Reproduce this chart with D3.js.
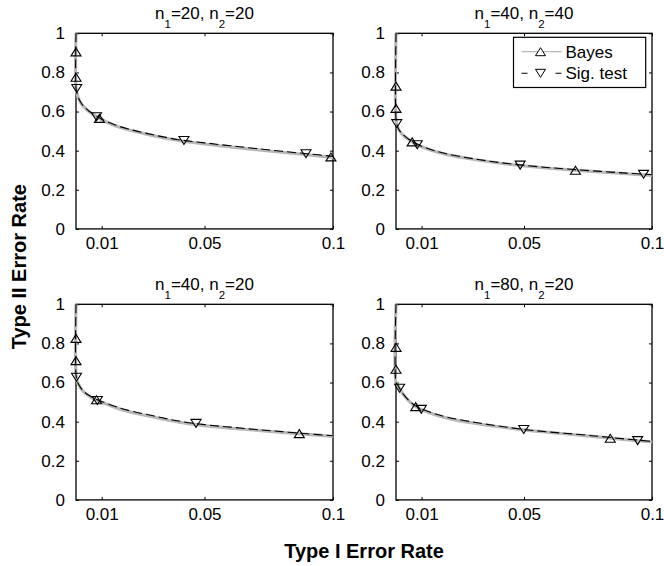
<!DOCTYPE html>
<html>
<head>
<meta charset="utf-8">
<script src="https://cdn.jsdelivr.net/npm/d3@7"></script>
<style>
  html, body { margin: 0; padding: 0; background: #fff; }
  svg { display: block; font-family: "Liberation Sans", Arial, Helvetica, sans-serif; }
</style>
</head>
<body>
<svg id="chart" width="664" height="566"></svg>
<script>
// ---- data ---------------------------------------------------------------
// sample sizes shown in each panel title (row-major order)
const n1Values = [20, 40, 40, 80];
const n2Values = [20, 40, 20, 20];

// Type I error rate grid shared by all curves
const typeIGrid = [0, 0, 0.0005, 0.001, 0.002, 0.003, 0.005, 0.0075, 0.01, 0.015,
                   0.02, 0.03, 0.04, 0.05, 0.06, 0.07, 0.08, 0.09, 0.1];

// Type II error rate along the grid, Bayes rule
const bayesCurve20x20 = [1, 0.72, 0.685, 0.667, 0.642, 0.625, 0.6, 0.578, 0.558, 0.529, 0.508, 0.477, 0.452, 0.434, 0.419, 0.405, 0.392, 0.379, 0.366];
const bayesCurve40x40 = [1, 0.56, 0.525, 0.51, 0.49, 0.477, 0.456, 0.436, 0.42, 0.397, 0.38, 0.356, 0.337, 0.322, 0.31, 0.3, 0.291, 0.282, 0.274];
const bayesCurve40x20 = [1, 0.64, 0.605, 0.59, 0.568, 0.552, 0.532, 0.513, 0.499, 0.474, 0.453, 0.424, 0.398, 0.38, 0.367, 0.356, 0.345, 0.335, 0.325];
const bayesCurve80x20 = [1, 0.6, 0.59, 0.58, 0.556, 0.537, 0.506, 0.479, 0.461, 0.437, 0.418, 0.393, 0.374, 0.358, 0.345, 0.333, 0.321, 0.308, 0.296];

// Type II error rate along the grid, significance test
const sigCurve20x20 = [1, 0.72, 0.686, 0.668, 0.644, 0.627, 0.603, 0.581, 0.561, 0.533, 0.512, 0.481, 0.456, 0.44, 0.425, 0.411, 0.397, 0.384, 0.371];
const sigCurve40x40 = [1, 0.56, 0.526, 0.511, 0.492, 0.479, 0.458, 0.439, 0.423, 0.4, 0.383, 0.359, 0.34, 0.325, 0.313, 0.303, 0.294, 0.285, 0.277];
const sigCurve40x20 = [1, 0.64, 0.606, 0.591, 0.57, 0.555, 0.535, 0.517, 0.503, 0.479, 0.459, 0.43, 0.403, 0.385, 0.372, 0.36, 0.349, 0.338, 0.328];
const sigCurve80x20 = [1, 0.6, 0.59, 0.58, 0.557, 0.538, 0.508, 0.482, 0.465, 0.441, 0.423, 0.398, 0.378, 0.36, 0.347, 0.336, 0.324, 0.311, 0.299];

// marked operating points: Bayes (up triangles)
const bayesMarkX20x20 = [0, 0, 0.0091, 0.0992];
const bayesMarkY20x20 = [0.905, 0.775, 0.565, 0.368];
const bayesMarkX40x40 = [0, 0, 0.0063, 0.0701];
const bayesMarkY40x40 = [0.73, 0.616, 0.445, 0.30];
const bayesMarkX40x20 = [0, 0, 0.008, 0.0869];
const bayesMarkY40x20 = [0.826, 0.712, 0.512, 0.339];
const bayesMarkX80x20 = [0, 0, 0.0077, 0.0837];
const bayesMarkY80x20 = [0.78, 0.668, 0.477, 0.315];

// marked operating points: significance test (down triangles)
const sigMarkX20x20 = [0.0003, 0.008, 0.042, 0.0895];
const sigMarkY20x20 = [0.718, 0.573, 0.452, 0.384];
const sigMarkX40x40 = [0.0003, 0.0083, 0.0485, 0.0967];
const sigMarkY40x40 = [0.538, 0.43, 0.326, 0.279];
const sigMarkX40x20 = [0.0002, 0.0083, 0.0467];
const sigMarkY40x20 = [0.627, 0.508, 0.391];
const sigMarkX80x20 = [0.0014, 0.0099, 0.0499, 0.0944];
const sigMarkY80x20 = [0.571, 0.463, 0.36, 0.303];

// axis ticks
const xTickValues = [0.01, 0.05, 0.1];
const xTickLabels = ["0.01", "0.05", "0.1"];
const yTickValues = [0, 0.2, 0.4, 0.6, 0.8, 1];
const yTickLabels = ["0", "0.2", "0.4", "0.6", "0.8", "1"];

const legendLabels = ["Bayes", "Sig. test"];
const xAxisTitle = "Type I Error Rate";
const yAxisTitle = "Type II Error Rate";

// ---- drawing --------------------------------------------------------------
const panels = [
  { bayes: bayesCurve20x20, sig: sigCurve20x20, bx: bayesMarkX20x20, by: bayesMarkY20x20, sx: sigMarkX20x20, sy: sigMarkY20x20 },
  { bayes: bayesCurve40x40, sig: sigCurve40x40, bx: bayesMarkX40x40, by: bayesMarkY40x40, sx: sigMarkX40x40, sy: sigMarkY40x40 },
  { bayes: bayesCurve40x20, sig: sigCurve40x20, bx: bayesMarkX40x20, by: bayesMarkY40x20, sx: sigMarkX40x20, sy: sigMarkY40x20 },
  { bayes: bayesCurve80x20, sig: sigCurve80x20, bx: bayesMarkX80x20, by: bayesMarkY80x20, sx: sigMarkX80x20, sy: sigMarkY80x20 }
];

const svg = d3.select("#chart");
const colLeft = [76, 396];
const colWidth = [257, 256];
const rowTop = [33.3, 304.3];
const plotH = 195.6;
const fontSize = 17;
const grayLine = "#b8b8b8";

// open triangle marker, slightly wider than tall, centred on its bounding box
const triangleShape = {
  draw(ctx) {
    ctx.moveTo(0, -4);
    ctx.lineTo(5, 4);
    ctx.lineTo(-5, 4);
    ctx.closePath();
  }
};
const upTri = d3.symbol().type(triangleShape);

function drawPanel(p, i) {
  const col = i % 2, row = Math.floor(i / 2);
  const w = colWidth[col];
  const g = svg.append("g").attr("transform", `translate(${colLeft[col]},${rowTop[row]})`);

  const x = d3.scaleLinear().domain([0, 0.1]).range([0, w]);
  const y = d3.scaleLinear().domain([0, 1]).range([plotH, 0]);

  // ticks on all four sides, pointing inward
  const styleAxis = sel => {
    sel.select(".domain").remove();
    sel.selectAll(".tick line").attr("stroke", "#000").attr("stroke-width", 1);
    sel.selectAll("text").attr("font-size", fontSize).attr("fill", "#000")
      .attr("font-family", "Liberation Sans, Arial, sans-serif");
  };
  g.append("g").attr("transform", `translate(0,${plotH})`)
    .call(d3.axisBottom(x).tickValues(xTickValues).tickSize(-3).tickPadding(8)
      .tickFormat((d, k) => xTickLabels[k]))
    .call(styleAxis);
  g.append("g")
    .call(d3.axisTop(x).tickValues(xTickValues).tickSize(-3).tickFormat(""))
    .call(styleAxis);
  g.append("g")
    .call(d3.axisLeft(y).tickValues(yTickValues).tickSize(-3).tickPadding(11)
      .tickFormat((d, k) => yTickLabels[k]))
    .call(styleAxis);
  g.append("g").attr("transform", `translate(${w},0)`)
    .call(d3.axisRight(y).tickValues(yTickValues).tickSize(-3).tickFormat(""))
    .call(styleAxis);

  g.append("rect").attr("width", w).attr("height", plotH)
    .attr("fill", "none").attr("stroke", "#000").attr("stroke-width", 1.3);

  const line = d3.line().x(d => x(d[0])).y(d => y(d[1])).curve(d3.curveCatmullRom.alpha(0.5));

  g.append("path").datum(typeIGrid.map((t, k) => [t, p.bayes[k]]))
    .attr("d", line).attr("fill", "none").attr("stroke", grayLine)
    .attr("stroke-width", 3.2).attr("stroke-linejoin", "round");
  g.append("path").datum(typeIGrid.map((t, k) => [t, p.sig[k]]))
    .attr("d", line).attr("fill", "none").attr("stroke", "#000")
    .attr("stroke-width", 1.1).attr("stroke-dasharray", "9,4");

  g.selectAll(".bm").data(p.bx.map((t, k) => [t, p.by[k]])).join("path")
    .attr("transform", d => `translate(${x(d[0])},${y(d[1])})`)
    .attr("d", upTri).attr("fill", "none").attr("stroke", "#000").attr("stroke-width", 1.1);
  g.selectAll(".sm").data(p.sx.map((t, k) => [t, p.sy[k]])).join("path")
    .attr("transform", d => `translate(${x(d[0])},${y(d[1])}) rotate(180)`)
    .attr("d", upTri).attr("fill", "none").attr("stroke", "#000").attr("stroke-width", 1.1);

  // title  n1=.., n2=..
  const t = g.append("text").attr("x", w / 2).attr("y", -14)
    .attr("text-anchor", "middle").attr("font-size", fontSize).attr("fill", "#000");
  t.append("tspan").text("n");
  t.append("tspan").attr("font-size", 11.5).attr("dy", 8.5).text("1");
  t.append("tspan").attr("dy", -8.5).text(`=${n1Values[i]}, n`);
  t.append("tspan").attr("font-size", 11.5).attr("dy", 8.5).text("2");
  t.append("tspan").attr("dy", -8.5).text(`=${n2Values[i]}`);

  if (i === 1) drawLegend(g, w);
}

function drawLegend(g, w) {
  const lg = g.append("g").attr("transform", `translate(${w - 138.5},4)`);
  lg.append("rect").attr("width", 132.2).attr("height", 50.2)
    .attr("fill", "#fff").attr("stroke", "#000").attr("stroke-width", 1.2);
  const rows = [14.4, 36];
  // Bayes entry
  lg.append("line").attr("x1", 8).attr("x2", 48).attr("y1", rows[0]).attr("y2", rows[0])
    .attr("stroke", grayLine).attr("stroke-width", 1.2);
  lg.append("path").attr("transform", `translate(27,${rows[0]})`).attr("d", upTri)
    .attr("fill", "#fff").attr("stroke", "#000").attr("stroke-width", 1);
  // Sig. test entry
  lg.append("line").attr("x1", 8).attr("x2", 48).attr("y1", rows[1]).attr("y2", rows[1])
    .attr("stroke", "#000").attr("stroke-width", 1.1).attr("stroke-dasharray", "6,28,6");
  lg.append("path").attr("transform", `translate(27,${rows[1]}) rotate(180)`).attr("d", upTri)
    .attr("fill", "#fff").attr("stroke", "#000").attr("stroke-width", 1);
  legendLabels.forEach((lab, k) => {
    lg.append("text").attr("x", 52).attr("y", rows[k]).attr("dy", "0.35em")
      .attr("font-size", fontSize).attr("fill", "#000").text(lab);
  });
}

panels.forEach(drawPanel);

// shared axis titles
svg.append("text").attr("x", 364).attr("y", 558).attr("text-anchor", "middle")
  .attr("font-size", 20).attr("font-weight", "bold").attr("fill", "#000").text(xAxisTitle);
svg.append("text").attr("transform", "translate(26,266.7) rotate(-90)").attr("text-anchor", "middle")
  .attr("font-size", 20).attr("font-weight", "bold").attr("fill", "#000").text(yAxisTitle);
</script>
</body>
</html>
